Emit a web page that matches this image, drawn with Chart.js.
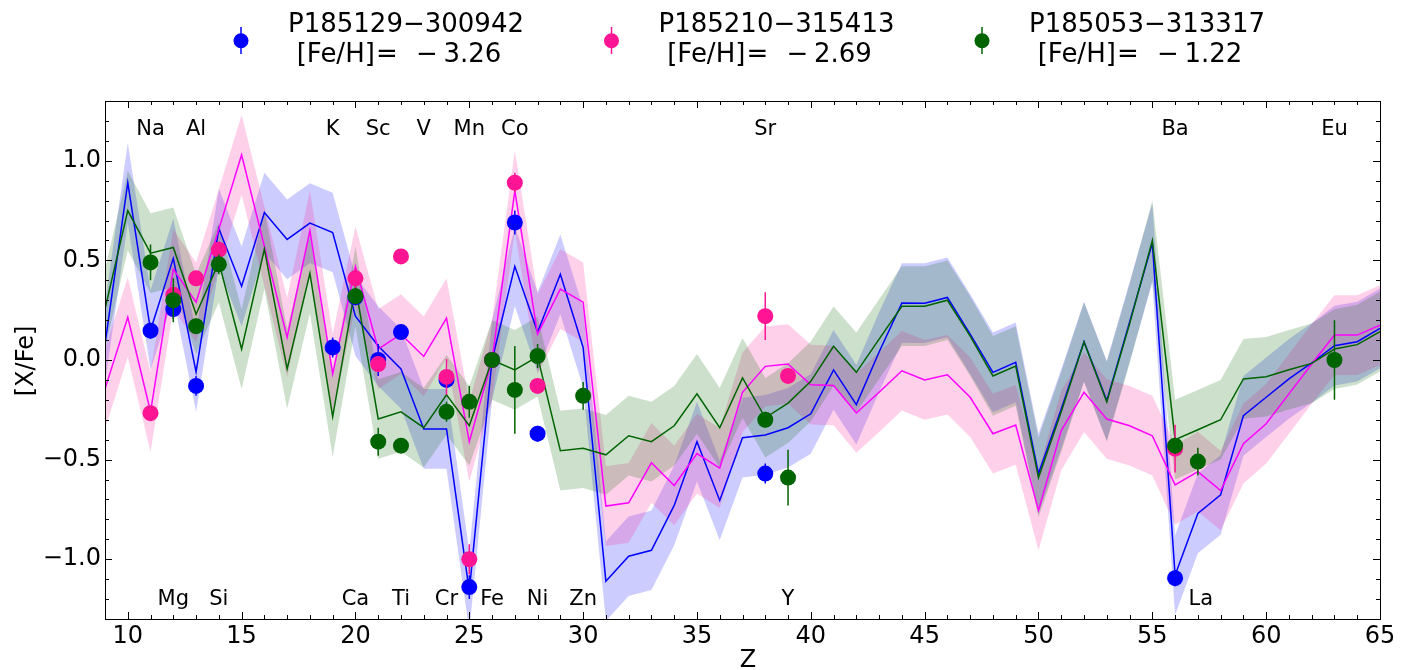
<!DOCTYPE html>
<html>
<head>
<meta charset="utf-8">
<script src="https://cdn.jsdelivr.net/npm/chart.js@4.4.0/dist/chart.umd.min.js"></script>
<style>
  body { margin: 0; background: #fff; }
  #wrap { width: 1413px; height: 670px; }
</style>
</head>
<body>
<div id="wrap"><canvas id="abundChart" width="1413" height="670"></canvas></div>
<script>
// ---- model grid (atomic number Z) ----
const zGrid = [9,10,11,12,13,14,15,16,17,18,19,20,21,22,23,24,25,26,27,28,29,30,31,32,33,34,35,36,37,
               38,39,40,41,42,43,44,45,46,47,48,49,50,51,52,53,54,55,56,57,58,59,60,61,62,63,64,65];

// model [X/Fe] lines
const blueModel = [0.08,0.89,0.15,0.51,-0.06,0.66,0.37,0.74,0.605,0.687,0.64,0.22,0.07,-0.045,-0.346,-0.346,-1.16,0.0,0.47,0.14,
                   0.43,0.063,-1.11,-0.985,-0.955,-0.73,-0.41,-0.705,-0.39,-0.376,-0.34,-0.27,-0.05,-0.224,0.04,0.286,0.285,0.314,
                   0.13,-0.062,-0.012,-0.57,-0.246,0.092,-0.204,0.19,0.586,-1.08,-0.77,-0.677,-0.28,-0.187,-0.095,-0.015,0.072,0.092,0.159];
const pinkModel = [-0.145,0.214,-0.26,0.456,0.29,0.657,1.03,0.57,0.113,0.65,-0.07,0.47,0.055,0.13,0.018,0.21,-0.41,0.0,0.85,0.13,
                   0.356,0.29,-0.733,-0.717,-0.516,-0.63,-0.47,-0.543,-0.162,-0.032,-0.02,-0.124,-0.128,-0.266,-0.162,-0.054,-0.10,-0.074,
                   -0.187,-0.37,-0.326,-0.755,-0.354,-0.162,-0.296,-0.33,-0.38,-0.627,-0.56,-0.655,-0.42,-0.32,-0.17,-0.02,0.125,0.125,0.175];
const greenModel = [0.256,0.75,0.536,0.565,0.23,0.49,0.055,0.556,-0.045,0.435,-0.285,0.37,-0.296,-0.26,-0.34,-0.175,-0.33,0.0,-0.05,0.017,
                    -0.455,-0.443,-0.476,-0.38,-0.41,-0.33,-0.17,-0.34,-0.09,-0.29,-0.216,-0.107,0.069,-0.062,0.105,0.27,0.27,0.30,
                    0.12,-0.08,-0.03,-0.59,-0.26,0.09,-0.21,0.18,0.60,-0.40,-0.35,-0.30,-0.095,-0.084,-0.049,-0.017,0.055,0.077,0.142];
// half width of the shaded model uncertainty
const bandHalf = 0.2;

// ---- observed abundances ----
const blueObsZ = [11,12,13,19,20,21,22,24,25,26,27,28,38,56];
const blueObs  = [0.147,0.256,-0.13,0.063,0.315,0.0,0.14,-0.10,-1.14,0.0,0.69,-0.37,-0.57,-1.095];
const blueErr  = [0.04,0.05,0.05,0.05,0.04,0.08,0.03,0.04,0.06,0.0,0.06,0.04,0.05,0.04];

const pinkObsZ = [11,12,13,14,20,21,22,24,25,26,27,28,38,39,56];
const pinkObs  = [-0.267,0.327,0.41,0.553,0.41,-0.02,0.52,-0.085,-1.0,0.0,0.89,-0.13,0.22,-0.08,-0.445];
const pinkErr  = [0.03,0.05,0.03,0.04,0.05,0.04,0.03,0.09,0.075,0.0,0.05,0.03,0.12,0.03,0.12];

const greenObsZ = [11,12,13,14,20,21,22,24,25,26,27,28,30,38,39,56,57,63];
const greenObs  = [0.49,0.30,0.17,0.48,0.32,-0.41,-0.43,-0.26,-0.21,0.0,-0.15,0.02,-0.18,-0.30,-0.59,-0.43,-0.51,0.0];
const greenErr  = [0.09,0.11,0.04,0.05,0.03,0.07,0.03,0.05,0.08,0.02,0.22,0.06,0.07,0.04,0.14,0.04,0.07,0.2];

// ---- legend / labels ----
const starNames = ['P185129\u2212300942', 'P185210\u2212315413', 'P185053\u2212313317'];
const starFeH   = ['3.26', '2.69', '1.22'];
const topElems  = ['Na','Al','K','Sc','V','Mn','Co','Sr','Ba','Eu'];
const topElemZ  = [11,13,19,21,23,25,27,38,56,63];
const botElems  = ['Mg','Si','Ca','Ti','Cr','Fe','Ni','Zn','Y','La'];
const botElemZ  = [12,14,20,22,24,26,28,30,39,57];

// ---- axis ticks ----
const xTickVals = [10,15,20,25,30,35,40,45,50,55,60,65];
const yTickVals = [-1.0,-0.5,0.0,0.5,1.0];

const BLUE = '#0000ff', MAGENTA = '#ff00ff', DPINK = '#ff1493', DGREEN = '#006400';

function toXY(zs, ys) { return zs.map((z, i) => ({x: z, y: ys[i]})); }
function errSegs(zs, ys, es) {
    let out = [];
    zs.forEach((z, i) => {
        out.push({x: z, y: ys[i] - es[i]}, {x: z, y: ys[i] + es[i]}, {x: z, y: null});
    });
    return out;
}
function bandPair(vals, fillCol, ord) {
    return [
        { data: toXY(zGrid, vals.map(v => v - bandHalf)), borderWidth: 0, pointRadius: 0, fill: false, order: ord },
        { data: toXY(zGrid, vals.map(v => v + bandHalf)), borderWidth: 0, pointRadius: 0,
          fill: '-1', backgroundColor: fillCol, order: ord - 1 }
    ];
}
function modelLine(vals, col, ord) {
    return { data: toXY(zGrid, vals), borderColor: col, borderWidth: 1.5, pointRadius: 0, fill: false, tension: 0, order: ord };
}
function errLine(zs, ys, es, col, ord) {
    return { data: errSegs(zs, ys, es), borderColor: col, borderWidth: 1.5, pointRadius: 0, fill: false, spanGaps: false, order: ord };
}
function obsPoints(zs, ys, col, ord) {
    return { data: toXY(zs, ys), showLine: false, pointRadius: 8, pointBackgroundColor: col,
             pointBorderWidth: 0, backgroundColor: col, borderColor: col, order: ord };
}

// inward ticks on all four sides + frame + element names + axis titles + legend
const decorPlugin = {
    id: 'decor',
    afterDraw(chart) {
        const ctx = chart.ctx, a = chart.chartArea, xs = chart.scales.x, ys = chart.scales.y;
        ctx.save();
        ctx.strokeStyle = '#000';
        ctx.lineWidth = 1;
        ctx.beginPath();
        for (let z = 9; z <= 65; z++) {
            const len = (z % 5 === 0) ? 7 : 4;
            const px = Math.round(xs.getPixelForValue(z)) + 0.5;
            ctx.moveTo(px, a.bottom); ctx.lineTo(px, a.bottom - len);
            ctx.moveTo(px, a.top); ctx.lineTo(px, a.top + len);
        }
        for (let k = -13; k <= 13; k++) {
            const len = (k % 5 === 0) ? 7 : 4;
            const py = Math.round(ys.getPixelForValue(k / 10)) + 0.5;
            ctx.moveTo(a.left, py); ctx.lineTo(a.left + len, py);
            ctx.moveTo(a.right, py); ctx.lineTo(a.right - len, py);
        }
        ctx.stroke();
        ctx.strokeRect(Math.round(a.left) + 0.5, Math.round(a.top) + 0.5,
                       Math.round(a.right - a.left), Math.round(a.bottom - a.top));

        // element names
        ctx.fillStyle = '#000';
        ctx.font = '21px "DejaVu Sans"';
        ctx.textAlign = 'center';
        ctx.textBaseline = 'alphabetic';
        const yTop = ys.getPixelForValue(1.128), yBot = ys.getPixelForValue(-1.228);
        topElems.forEach((t, i) => ctx.fillText(t, xs.getPixelForValue(topElemZ[i]), yTop));
        botElems.forEach((t, i) => {
            let dx = (t === 'La') ? 3 : 0;
            ctx.fillText(t, xs.getPixelForValue(botElemZ[i]) + dx, yBot);
        });

        // axis titles
        ctx.font = '24px "DejaVu Sans"';
        ctx.fillText('Z', 748, 667);
        ctx.save();
        ctx.translate(33, 361);
        ctx.rotate(-Math.PI / 2);
        ctx.fillText('[X/Fe]', 0, 0);
        ctx.restore();

        // legend
        const cols = [BLUE, DPINK, DGREEN];
        ctx.font = '26px "DejaVu Sans"';
        ctx.textAlign = 'left';
        for (let i = 0; i < 3; i++) {
            const mx = 241 + 370.5 * i, my = 40.7;
            ctx.strokeStyle = cols[i];
            ctx.lineWidth = 1.5;
            ctx.beginPath(); ctx.moveTo(mx, 27); ctx.lineTo(mx, 54); ctx.stroke();
            ctx.fillStyle = cols[i];
            ctx.beginPath(); ctx.arc(mx, my, 7.5, 0, Math.PI * 2); ctx.fill();
            ctx.fillStyle = '#000';
            ctx.fillText(starNames[i], mx + 47, 32.3);
            ctx.fillText('[Fe/H]', mx + 55.7, 62.3);
            ctx.fillText('=', mx + 135, 62.3);
            ctx.fillText('\u2212', mx + 175, 62.3);
            ctx.fillText(starFeH[i], mx + 202.5, 62.3);
        }
        ctx.restore();
    }
};

Chart.defaults.font.family = '"DejaVu Sans"';
Chart.defaults.color = '#000';

const ctx = document.getElementById('abundChart').getContext('2d');
const myChart = new Chart(ctx, {
    type: 'line',
    data: {
        datasets: [
            ...bandPair(blueModel, 'rgba(0,0,255,0.2)', 40),
            ...bandPair(pinkModel, 'rgba(255,20,147,0.2)', 38),
            ...bandPair(greenModel, 'rgba(0,100,0,0.2)', 36),
            modelLine(blueModel, BLUE, 30),
            modelLine(pinkModel, MAGENTA, 29),
            modelLine(greenModel, DGREEN, 28),
            errLine(blueObsZ, blueObs, blueErr, BLUE, 20),
            obsPoints(blueObsZ, blueObs, BLUE, 19),
            errLine(pinkObsZ, pinkObs, pinkErr, DPINK, 18),
            obsPoints(pinkObsZ, pinkObs, DPINK, 17),
            errLine(greenObsZ, greenObs, greenErr, DGREEN, 16),
            obsPoints(greenObsZ, greenObs, DGREEN, 15)
        ]
    },
    options: {
        responsive: false,
        animation: false,
        events: [],
        layout: { padding: { top: 101, right: 33, left: 0, bottom: 0 } },
        plugins: {
            legend: { display: false },
            tooltip: { enabled: false },
            filler: { drawTime: 'beforeDatasetDraw' }
        },
        scales: {
            x: {
                type: 'linear',
                min: 9, max: 65,
                grid: { display: false, drawTicks: false },
                border: { display: false },
                afterFit: s => { s.height = 51; },
                afterBuildTicks: s => { s.ticks = xTickVals.map(v => ({value: v})); },
                ticks: { autoSkip: false, maxRotation: 0, padding: 3, font: { size: 24 } }
            },
            y: {
                type: 'linear',
                min: -1.3, max: 1.3,
                grid: { display: false, drawTicks: false },
                border: { display: false },
                afterFit: s => { s.width = 105; },
                afterBuildTicks: s => { s.ticks = yTickVals.map(v => ({value: v})); },
                ticks: {
                    padding: 4,
                    font: { size: 24 },
                    callback: v => (v < 0 ? '\u2212' : '') + Math.abs(v).toFixed(1)
                }
            }
        }
    },
    plugins: [decorPlugin]
});
</script>
</body>
</html>
